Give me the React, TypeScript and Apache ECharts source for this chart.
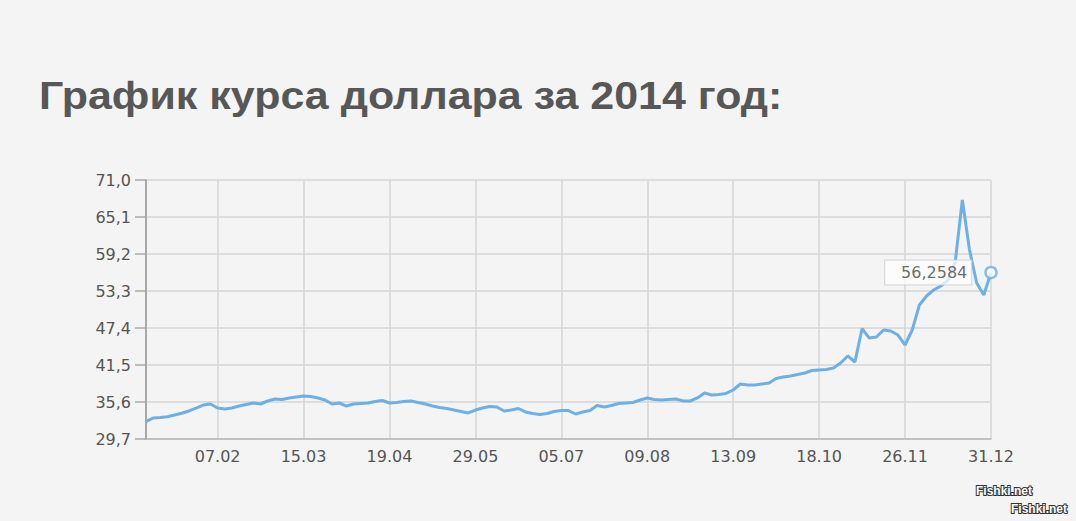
import React, { useEffect, useRef } from "react";
import * as echarts from "echarts";

const TITLE = "График курса доллара за 2014 год:";

const dates = [
  "10.01","13.01","15.01","18.01","21.01","24.01","27.01","30.01","01.02","04.02","07.02",
  "10.02","13.02","16.02","19.02","22.02","25.02","28.02","03.03","06.03","09.03","12.03","15.03",
  "18.03","21.03","24.03","27.03","30.03","02.04","05.04","08.04","11.04","14.04","17.04","19.04",
  "22.04","25.04","28.04","02.05","05.05","08.05","12.05","15.05","19.05","22.05","26.05","29.05",
  "01.06","04.06","07.06","10.06","13.06","16.06","19.06","22.06","25.06","28.06","01.07","05.07",
  "08.07","11.07","14.07","17.07","20.07","23.07","26.07","29.07","01.08","04.08","07.08","09.08",
  "12.08","15.08","18.08","21.08","24.08","27.08","30.08","02.09","05.09","08.09","11.09","13.09",
  "16.09","19.09","22.09","25.09","28.09","01.10","04.10","07.10","10.10","13.10","16.10","18.10",
  "21.10","24.10","27.10","31.10","03.11","06.11","10.11","13.11","17.11","20.11","23.11","26.11",
  "29.11","02.12","05.12","08.12","11.12","14.12","16.12","19.12","22.12","25.12","28.12","31.12",
];

const rates = [
  32.46, 33.05, 33.13, 33.26, 33.53, 33.8, 34.17, 34.64, 35.12, 35.28,
  34.64, 34.48, 34.64, 34.96, 35.2, 35.44, 35.28, 35.76, 36.08, 36.0,
  36.24, 36.4, 36.56, 36.48, 36.24, 35.92, 35.28, 35.44, 34.96, 35.28,
  35.36, 35.44, 35.68, 35.84, 35.44, 35.52, 35.68, 35.76, 35.52, 35.28,
  34.96, 34.72, 34.56, 34.32, 34.08, 33.85, 34.32, 34.64, 34.88, 34.8,
  34.17, 34.32, 34.56, 34.01, 33.77, 33.61, 33.77, 34.08, 34.24, 34.24,
  33.69, 34.01, 34.24, 35.04, 34.8, 35.04, 35.36, 35.44, 35.52, 35.92,
  36.24, 36.0, 35.92, 36.0, 36.08, 35.76, 35.76, 36.24, 37.04, 36.72,
  36.8, 36.96, 37.51, 38.47, 38.31, 38.31, 38.47, 38.63, 39.35, 39.59,
  39.75, 39.98, 40.22, 40.62, 40.7, 40.78, 41.02, 41.82, 42.94, 41.98,
  47.3, 45.8, 45.96, 47.08, 46.92, 46.28, 44.69, 47.08, 51.07, 52.5,
  53.46, 54.1, 55.05, 57.92, 67.81, 59.84, 54.58, 52.66, 56.2584,
];

const Y_MIN = 29.7;
const Y_MAX = 71.0;
const Y_STEP = 5.9;
const LAST_LABEL = "56,2584";
const FIRST_LABEL_INDEX = 10;
const LABEL_EVERY = 12;

export default function App() {
  const ref = useRef<HTMLDivElement>(null);
  useEffect(() => {
    if (!ref.current) return;
    const chart = echarts.init(ref.current, null, { renderer: "svg" });
    const showIdx = (i: number) =>
      i >= FIRST_LABEL_INDEX && (i - FIRST_LABEL_INDEX) % LABEL_EVERY === 0;
    const shifted = rates.map((v) => +(v - Y_MIN).toFixed(4));
    const lastI = rates.length - 1;
    const font = "'DejaVu Sans', Verdana, sans-serif";
    const wmStyle = {
      fill: "#ffffff",
      stroke: "#333",
      lineWidth: 2,
      fontSize: 12,
      fontWeight: "bold",
      fontFamily: "'Liberation Sans', Arial, sans-serif",
    };
    chart.setOption({
      animation: false,
      backgroundColor: "#f4f4f4",
      grid: { left: 146, right: 85, top: 180, bottom: 82, containLabel: false },
      xAxis: {
        type: "category",
        data: dates,
        boundaryGap: false,
        axisLine: { show: true, lineStyle: { color: "#b8b8b8", width: 1.5 } },
        axisTick: { show: false },
        axisLabel: {
          interval: (i: number) => showIdx(i),
          margin: 9,
          fontSize: 16,
          color: "#555",
          fontFamily: font,
        },
        splitLine: {
          show: true,
          interval: (i: number) => showIdx(i),
          lineStyle: { color: "#d6d6d6", width: 1.5 },
        },
      },
      yAxis: {
        type: "value",
        min: 0,
        max: +(Y_MAX - Y_MIN).toFixed(1),
        interval: Y_STEP,
        axisLine: { show: true, lineStyle: { color: "#a8a8a8", width: 2 } },
        axisTick: { show: true, length: 11, lineStyle: { color: "#a8a8a8", width: 1.5 } },
        axisLabel: {
          margin: 15,
          fontSize: 16,
          color: "#555",
          fontFamily: font,
          formatter: (v: number) => (v + Y_MIN).toFixed(1).replace(".", ","),
        },
        splitLine: { show: true, lineStyle: { color: "#d6d6d6", width: 1.5 } },
      },
      series: [
        {
          type: "line",
          data: shifted,
          symbol: "none",
          lineStyle: { color: "#6cb0e6", width: 3 },
          z: 2,
        },
        {
          type: "scatter",
          data: [[dates[lastI], shifted[lastI]]],
          symbol: "circle",
          symbolSize: 11,
          itemStyle: { color: "#ffffff", borderColor: "#6cb0e6", borderWidth: 2.5 },
          z: 5,
          label: {
            show: true,
            position: "left",
            distance: 13,
            formatter: LAST_LABEL,
            fontSize: 16,
            color: "#454545",
            fontFamily: font,
            backgroundColor: "rgba(255,255,255,0.92)",
            borderColor: "#d0d0d0",
            borderWidth: 1,
            padding: [4, 4, 4, 16],
          },
        },
      ],
      graphic: [
        {
          type: "text",
          x: 39,
          y: 96,
          scaleX: 1.088,
          style: {
            text: TITLE,
            fill: "#575757",
            fontSize: 39.5,
            fontWeight: "bold",
            fontFamily: "'Liberation Sans Narrow', 'Liberation Sans', Arial, sans-serif",
            verticalAlign: "middle",
            align: "left",
          },
        },
        { type: "text", left: 975, top: 484, style: { text: "Fishki.net", ...wmStyle } },
        { type: "text", left: 1010, top: 502, style: { text: "Fishki.net", ...wmStyle } },
      ],
    });
    return () => chart.dispose();
  }, []);
  return (
    <div
      ref={ref}
      style={{ position: "fixed", left: 0, top: 0, width: 1076, height: 521 }}
    />
  );
}
